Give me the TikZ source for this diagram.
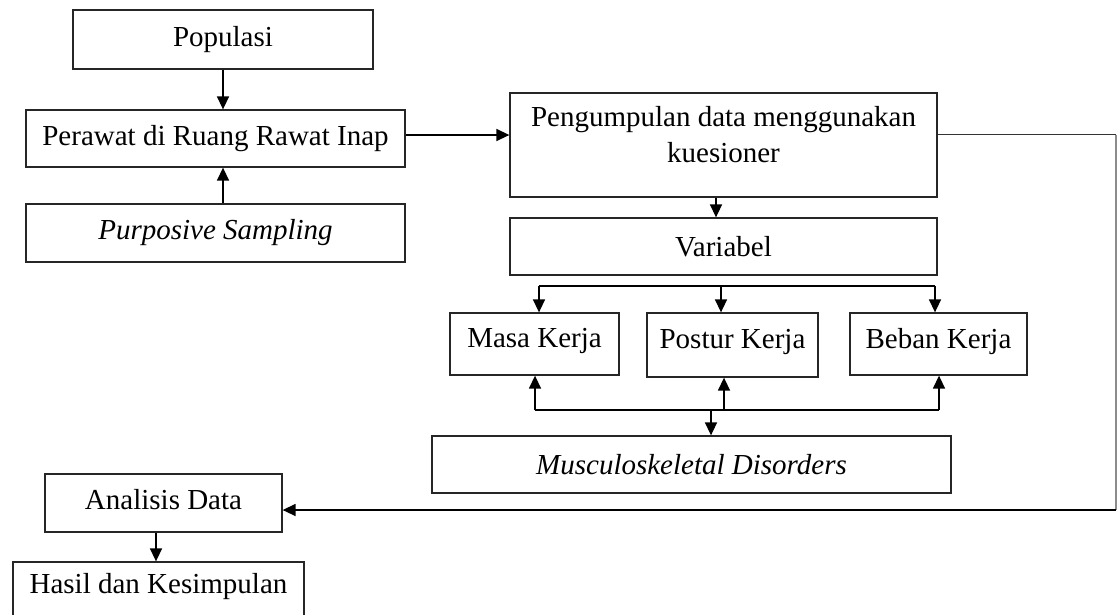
\documentclass[tikz,border=0pt]{standalone}
\usepackage{fontspec}
\setmainfont{Liberation Serif}
\usetikzlibrary{arrows.meta}
\begin{document}
\begin{tikzpicture}[x=1pt,y=-1pt,
  box/.style={draw=black!85, line width=1.3pt, inner sep=0pt, font=\fontsize{29}{35}\selectfont},
  arr/.style={line width=1.5pt, -{Triangle[length=13pt,width=12pt]}},
  ln/.style={line width=1.5pt},
  every label/.style={font=\fontsize{29}{36}\selectfont, align=center}]
\useasboundingbox (0,0) rectangle (1118,614);
\clip (0,0) rectangle (1118,614);
\fill[white] (0,0) rectangle (1118,614);
% boxes
\node[box, minimum width=300pt, minimum height=59pt] (pop) at (223,39.5) {Populasi};
\node[box, minimum width=379pt, minimum height=57pt] (per) at (215.5,138.5) {Perawat di Ruang Rawat Inap};
\node[box, minimum width=379pt, minimum height=58pt] (pur) at (215.5,233) {\itshape Purposive Sampling};
\node[box, minimum width=427pt, minimum height=104pt,
  label={[anchor=north, yshift=-10pt]north:Pengumpulan data menggunakan\\kuesioner}] (pen) at (723.5,145) {};
\node[box, minimum width=427pt, minimum height=57pt] (var) at (723.5,246.5) {Variabel};
\node[box, minimum width=169pt, minimum height=62pt, text depth=12pt] (masa) at (534.5,344) {Masa Kerja};
\node[box, minimum width=171pt, minimum height=64pt, text depth=12pt] (pos) at (732.5,345) {Postur Kerja};
\node[box, minimum width=177pt, minimum height=62pt, text depth=12pt] (beb) at (938.5,344) {Beban Kerja};
\node[box, minimum width=519pt, minimum height=57pt] (msd) at (691.5,464.5) {\itshape Musculoskeletal Disorders};
\node[box, minimum width=237pt, minimum height=58pt, text depth=8pt] (ana) at (163.5,503) {Analisis Data};
\node[box, minimum width=291pt, minimum height=68pt,
  label={[anchor=north, yshift=-8pt]north:Hasil dan Kesimpulan}] (has) at (158.5,596) {};
% coordinates
\coordinate (dl) at (539,286);
\coordinate (dm) at (721,286);
\coordinate (dr) at (935,286);
\coordinate (bl) at (535,410);
\coordinate (bm) at (724,410);
\coordinate (bd) at (711,410);
\coordinate (br) at (939,410);
\coordinate (rt) at (1116,134.5);
\coordinate (rb) at (1116,510);
% connectors
\draw[arr] (pop.south) -- (pop.south |- per.north);
\draw[arr] (pop.south |- pur.north) -- (pop.south |- per.south);
\draw[arr] ([yshift=3.5pt]per.east) -- ([yshift=3.5pt]per.east -| pen.west);
\draw[arr] ([xshift=-7.5pt]pen.south) -- ([xshift=-7.5pt]var.north);
\draw[ln] (dl) -- (dr);
\draw[arr] (dl) -- (dl |- masa.north);
\draw[arr] (dm) -- (dm |- pos.north);
\draw[arr] (dr) -- (dr |- beb.north);
\draw[ln] (bl) -- (br);
\draw[arr] (bl) -- (bl |- masa.south);
\draw[arr] (bm) -- (bm |- pos.south);
\draw[arr] (br) -- (br |- beb.south);
\draw[arr] (bd) -- (bd |- msd.north);
\draw[line width=1.2pt, black!80] (pen.east |- rt) -- (rt);
\draw[line width=1.2pt, black!45] (rt) -- (rb);
\draw[arr] (rb) -- (rb -| ana.east);
\draw[arr] ([xshift=-7.5pt]ana.south) -- ([xshift=-7.5pt]ana.south |- has.north);
\end{tikzpicture}
\end{document}
